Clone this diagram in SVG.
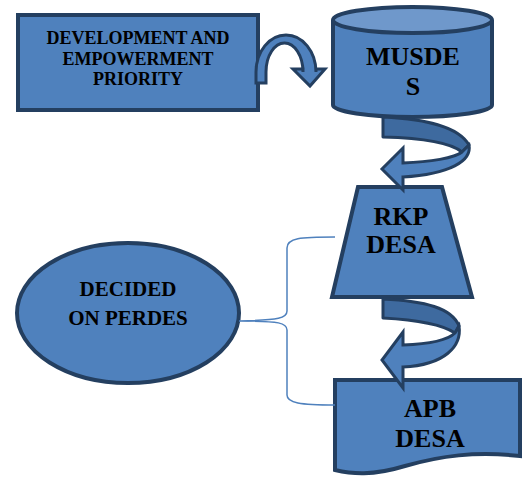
<svg xmlns="http://www.w3.org/2000/svg" width="523" height="478" viewBox="0 0 523 478">
<style>
.n{fill:#4F81BD;stroke:#243F60;stroke-width:4;stroke-linejoin:miter}
.t{font-family:"Liberation Serif","Times New Roman",serif;font-weight:bold;fill:#000;text-anchor:middle}
.back{fill:#3E6A9F;stroke:#243F60;stroke-width:3;stroke-linejoin:round}
.front{fill:#4F81BD;stroke:#243F60;stroke-width:3;stroke-linejoin:miter}
.brace{fill:none;stroke:#4F81BD;stroke-width:1.5}
</style>
<rect width="523" height="478" fill="#fff"/>
<g id="priority">
<rect class="n" x="18" y="15" width="240" height="95"/>
<text class="t" font-size="18"><tspan x="138" y="44">DEVELOPMENT AND</tspan><tspan x="138" y="64.5">EMPOWERMENT</tspan><tspan x="138" y="85">PRIORITY</tspan></text>
</g>
<g id="musdes">
<path class="n" d="M333,20 L333,105 A79.5,12 0 0 0 492,105 L492,20"/>
<ellipse class="n" cx="412.5" cy="20" rx="79.5" ry="13" fill="#6F98CB" style="fill:#6F98CB"/>
<text class="t" font-size="26"><tspan x="413" y="65">MUSDE</tspan><tspan x="413" y="95">S</tspan></text>
</g>
<g id="rkp">
<path class="n" d="M358,187 L442,187 L472,297 L332,297 Z"/>
<text class="t" font-size="26"><tspan x="401" y="225">RKP</tspan><tspan x="401" y="253">DESA</tspan></text>
</g>
<g id="apb">
<path class="n" d="M335,380 L520,380 L520,456 C475,451 440,456 405,466 C372,476 352,474 335,470 Z"/>
<text class="t" font-size="26"><tspan x="430" y="417">APB</tspan><tspan x="430" y="447">DESA</tspan></text>
</g>
<g id="perdes">
<ellipse class="n" cx="128" cy="313" rx="111" ry="70"/>
<text class="t" font-size="21"><tspan x="128" y="296">DECIDED</tspan><tspan x="128" y="325">ON PERDES</tspan></text>
</g>
<g id="connectors">
<path class="front" d="M256,83 L256,72 A30,37 0 0 1 316,72 L316,69 L325,69 L310,86 L293,69 L303,69 L303,72 A18.5,29 0 0 0 266,72 L266,83 Z"/>
<path class="back" d="M383,117 C425,119 458,126 469,145 L462,152 C450,142 420,138 383,137 Z"/>
<path class="front" d="M469,145 C472,161 450,174 403,177 L403,190 L382,169 L403,148 L403,163 C430,162 455,158 462,152 Z"/>
<path class="back" d="M383,299 C425,301 452,308 459,326 L455,333 C443,325 420,320 383,318 Z"/>
<path class="front" d="M459,326 C462,346 445,365 403,367 L403,388 L382,360 L403,332 L403,345 C430,344 448,340 455,333 Z"/>
<path class="brace" d="M335,237 C300,237 287,238 287,248 L287,311 C287,318 280,320 239,321 C280,321 287,323 287,330 L287,395 C287,403 300,405 335,405"/>
</g>
</svg>
